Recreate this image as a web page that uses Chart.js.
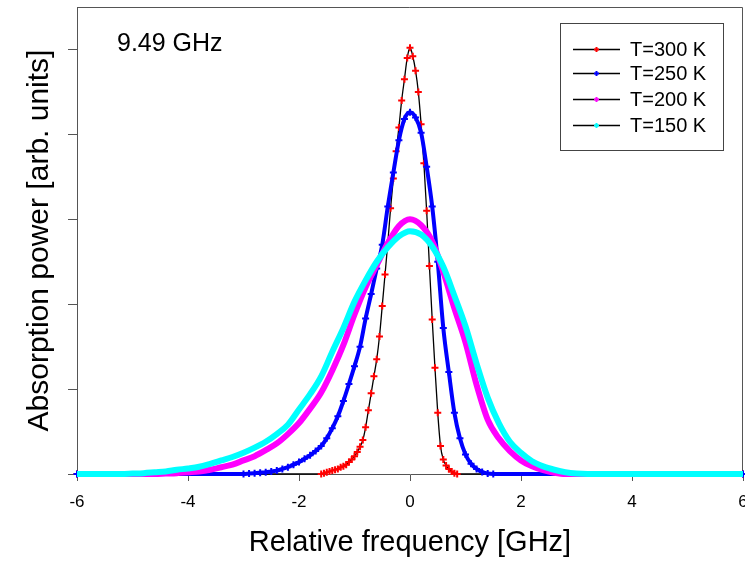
<!DOCTYPE html>
<html>
<head>
<meta charset="utf-8">
<script src="https://cdn.jsdelivr.net/npm/chart.js@4/dist/chart.umd.min.js"></script>
<style>
  html, body { margin: 0; padding: 0; background: #fff; }
  canvas { display: block; }
</style>
</head>
<body>
<canvas id="c" width="745" height="563"></canvas>
<script>
// ---- data ----
const seriesLabels = ["T=300 K", "T=250 K", "T=200 K", "T=150 K"];
const seriesColors = ["#ff0000", "#0000ff", "#ff00ff", "#00ffff"];
const xTicks = [-6, -4, -2, 0, 2, 4, 6];
const annotationText = "9.49 GHz";
const xTitle = "Relative frequency [GHz]";
const yTitle = "Absorption power [arb. units]";

const xRed = [-6, -1.6, -1.55, -1.5, -1.45, -1.4, -1.35, -1.3, -1.25, -1.2, -1.15, -1.1, -1.05, -1.0, -0.95, -0.9, -0.85, -0.8, -0.75, -0.7, -0.65, -0.6, -0.55, -0.5, -0.45, -0.4, -0.35, -0.3, -0.25, -0.2, -0.15, -0.1, -0.05, 0, 0.05, 0.1, 0.15, 0.2, 0.25, 0.3, 0.35, 0.4, 0.45, 0.5, 0.55, 0.6, 0.65, 0.7, 0.75, 0.8, 0.85, 6];
const yRed = [0, 0.0, 0.01, 0.02, 0.03, 0.04, 0.05, 0.06, 0.08, 0.09, 0.11, 0.14, 0.17, 0.21, 0.26, 0.32, 0.40, 0.55, 0.75, 0.95, 1.15, 1.35, 1.62, 1.98, 2.35, 2.72, 3.13, 3.48, 3.80, 4.08, 4.40, 4.65, 4.90, 5.02, 4.92, 4.75, 4.50, 4.12, 3.66, 3.10, 2.45, 1.82, 1.25, 0.72, 0.33, 0.17, 0.10, 0.06, 0.03, 0.01, 0.0, 0];

const xBlue = [-6, -3.0, -2.9, -2.8, -2.7, -2.6, -2.5, -2.4, -2.3, -2.2, -2.1, -2.0, -1.9, -1.8, -1.7, -1.6, -1.5, -1.4, -1.3, -1.2, -1.1, -1.0, -0.9, -0.8, -0.7, -0.6, -0.5, -0.4, -0.3, -0.2, -0.1, 0, 0.1, 0.2, 0.3, 0.4, 0.5, 0.6, 0.7, 0.8, 0.9, 1.0, 1.1, 1.2, 1.3, 1.4, 1.5, 6];
const yBlue = [0, 0.0, 0.005, 0.01, 0.015, 0.02, 0.03, 0.04, 0.06, 0.08, 0.11, 0.14, 0.18, 0.22, 0.27, 0.33, 0.42, 0.54, 0.68, 0.86, 1.06, 1.27, 1.50, 1.83, 2.12, 2.42, 2.70, 3.15, 3.55, 3.93, 4.18, 4.26, 4.20, 4.02, 3.62, 3.15, 2.50, 1.72, 1.20, 0.72, 0.42, 0.23, 0.12, 0.06, 0.025, 0.005, 0.0, 0];

const xMagenta = [-6, -4.6, -4.4, -4.2, -4.0, -3.8, -3.6, -3.4, -3.2, -3.0, -2.8, -2.6, -2.4, -2.2, -2.0, -1.8, -1.6, -1.4, -1.2, -1.0, -0.8, -0.6, -0.4, -0.2, 0, 0.2, 0.4, 0.6, 0.8, 1.0, 1.2, 1.4, 1.6, 1.8, 2.0, 2.2, 2.4, 2.6, 2.8, 6];
const yMagenta = [0, 0.0, 0.005, 0.01, 0.02, 0.03, 0.05, 0.08, 0.11, 0.16, 0.21, 0.28, 0.36, 0.47, 0.60, 0.77, 0.96, 1.22, 1.52, 1.88, 2.20, 2.46, 2.72, 2.92, 3.00, 2.93, 2.74, 2.38, 1.95, 1.55, 1.05, 0.64, 0.42, 0.27, 0.16, 0.09, 0.045, 0.015, 0.0, 0];

const xCyan = [-6, -5.2, -5.0, -4.8, -4.6, -4.4, -4.2, -4.0, -3.8, -3.6, -3.4, -3.2, -3.0, -2.8, -2.6, -2.4, -2.2, -2.0, -1.8, -1.6, -1.4, -1.2, -1.0, -0.8, -0.6, -0.4, -0.2, 0, 0.2, 0.4, 0.6, 0.8, 1.0, 1.2, 1.4, 1.6, 1.8, 2.0, 2.2, 2.4, 2.6, 2.8, 3.0, 3.2, 6];
const yCyan = [0, 0.0, 0.005, 0.01, 0.02, 0.03, 0.05, 0.065, 0.085, 0.12, 0.16, 0.20, 0.25, 0.31, 0.38, 0.47, 0.58, 0.76, 0.94, 1.15, 1.44, 1.72, 2.03, 2.28, 2.50, 2.67, 2.80, 2.86, 2.82, 2.68, 2.44, 2.10, 1.74, 1.30, 0.90, 0.60, 0.38, 0.25, 0.15, 0.09, 0.05, 0.02, 0.005, 0.0, 0];

// ---- build chart ----
const FONT = "'Liberation Sans', Arial, sans-serif";
const AXIS_COLOR = "#555555";
const pts = (xs, ys) => xs.map((x, i) => ({ x: x, y: ys[i] }));

const datasets = [
  {
    label: seriesLabels[0], data: pts(xRed, yRed), order: 4,
    borderColor: "#000000", borderWidth: 1.3,
    pointStyle: "cross", pointRadius: 3.5, pointBorderWidth: 2,
    pointBorderColor: seriesColors[0], pointBackgroundColor: seriesColors[0],
    cubicInterpolationMode: "monotone"
  },
  {
    label: seriesLabels[1], data: pts(xBlue, yBlue), order: 3,
    borderColor: seriesColors[1], borderWidth: 4,
    pointStyle: "cross", pointRadius: 3.5, pointBorderWidth: 2,
    pointBorderColor: seriesColors[1], pointBackgroundColor: seriesColors[1],
    cubicInterpolationMode: "monotone"
  },
  {
    label: seriesLabels[2], data: pts(xMagenta, yMagenta), order: 2,
    borderColor: seriesColors[2], borderWidth: 6, pointRadius: 0,
    cubicInterpolationMode: "monotone"
  },
  {
    label: seriesLabels[3], data: pts(xCyan, yCyan), order: 1,
    borderColor: seriesColors[3], borderWidth: 6, pointRadius: 0,
    cubicInterpolationMode: "monotone"
  }
];
datasets.forEach(d => { d.showLine = true; d.clip = false; d.pointHoverRadius = d.pointRadius; });

const framePlugin = {
  id: "frame",
  beforeDatasetsDraw(chart) {
    const { ctx, chartArea: a } = chart;
    ctx.save();
    ctx.strokeStyle = AXIS_COLOR;
    ctx.lineWidth = 1;
    ctx.beginPath();
    ctx.moveTo(a.left, a.top + 0.5);
    ctx.lineTo(a.right - 0.5, a.top + 0.5);
    ctx.lineTo(a.right - 0.5, a.bottom);
    ctx.stroke();
    ctx.restore();
  },
  afterDraw(chart) {
    const { ctx, chartArea: a } = chart;
    ctx.save();
    // annotation text
    ctx.fillStyle = "#000";
    ctx.font = "25px " + FONT;
    ctx.textBaseline = "middle";
    ctx.textAlign = "left";
    ctx.fillText(annotationText, a.left + 40, a.top + 37);
    // legend box
    const bx = a.right - 183, by = a.top + 16, bw = 163, bh = 127;
    ctx.fillStyle = "#fff";
    ctx.fillRect(bx, by, bw, bh);
    ctx.strokeStyle = "#444";
    ctx.lineWidth = 1;
    ctx.strokeRect(bx + 0.5, by + 0.5, bw, bh);
    const rows = [26, 50, 76, 102];
    ctx.font = "20px " + FONT;
    seriesLabels.forEach((lab, i) => {
      const y = by + rows[i];
      ctx.strokeStyle = "#000";
      ctx.lineWidth = 1.3;
      ctx.beginPath();
      ctx.moveTo(bx + 13, y + 0.5);
      ctx.lineTo(bx + 60, y + 0.5);
      ctx.stroke();
      ctx.strokeStyle = seriesColors[i];
      ctx.lineWidth = 2;
      ctx.beginPath();
      ctx.moveTo(bx + 34, y + 0.5); ctx.lineTo(bx + 39, y + 0.5);
      ctx.moveTo(bx + 36.5, y - 2); ctx.lineTo(bx + 36.5, y + 3);
      ctx.stroke();
      ctx.fillStyle = "#000";
      ctx.fillText(lab, bx + 70, y + 1);
    });
    ctx.restore();
  }
};

new Chart(document.getElementById("c"), {
  type: "scatter",
  data: { datasets: datasets },
  plugins: [framePlugin],
  options: {
    responsive: false,
    animation: false,
    devicePixelRatio: 1,
    events: [],
    layout: { autoPadding: false, padding: { top: 7, right: 2, left: 0, bottom: 0 } },
    plugins: { legend: { display: false }, tooltip: { enabled: false } },
    scales: {
      x: {
        type: "linear", min: xTicks[0], max: xTicks[xTicks.length - 1],
        afterFit(s) { s.height = 89; s.paddingRight = 0; s.paddingLeft = 0; },
        afterBuildTicks(s) { s.ticks = xTicks.map(v => ({ value: v })); },
        ticks: { color: "#000", font: { family: FONT, size: 17 }, padding: 11, maxRotation: 0 },
        grid: { drawOnChartArea: false, drawTicks: true, tickLength: 7, color: AXIS_COLOR },
        border: { color: AXIS_COLOR, width: 1 },
        title: { display: true, text: xTitle, color: "#000", font: { family: FONT, size: 29 }, padding: { top: 0, bottom: 3 } }
      },
      y: {
        type: "linear", min: 0, max: 5.5,
        afterFit(s) { s.width = 77; s.paddingTop = 0; s.paddingBottom = 0; },
        ticks: { stepSize: 1, includeBounds: false, callback: () => "", padding: 0 },
        grid: { drawOnChartArea: false, drawTicks: true, tickLength: 9, color: AXIS_COLOR },
        border: { color: AXIS_COLOR, width: 1 },
        title: { display: true, text: yTitle, color: "#000", font: { family: FONT, size: 30 }, padding: { top: 22, bottom: 0 } }
      }
    }
  }
});
</script>
</body>
</html>
